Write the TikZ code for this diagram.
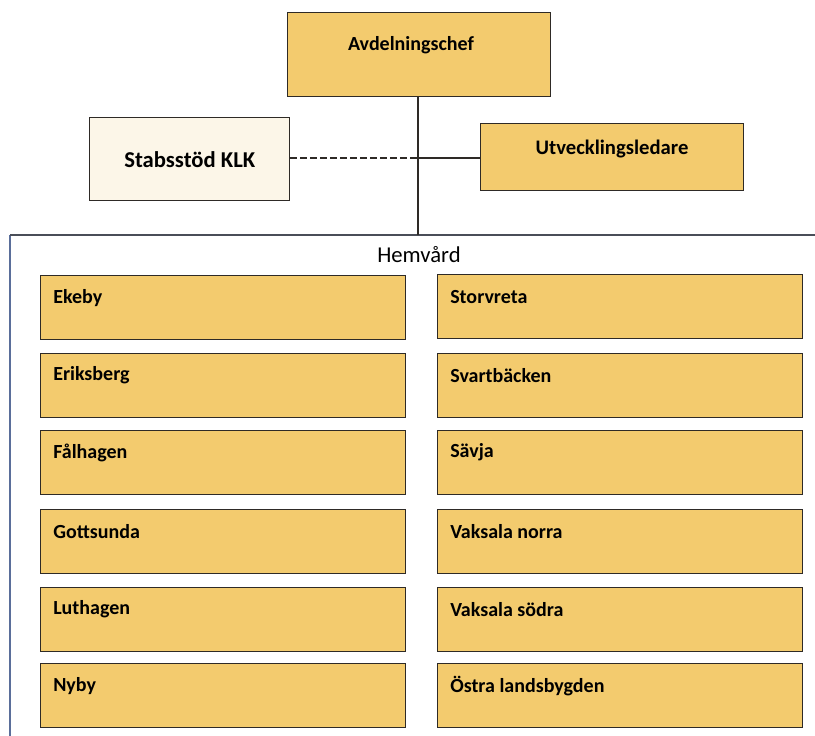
\documentclass[tikz,border=0pt]{standalone}
\usepackage{fontspec}
\setmainfont{Carlito}
\definecolor{gold}{HTML}{F3CB6E}
\definecolor{cream}{HTML}{FCF6E8}
\definecolor{edge}{HTML}{2E2A26}
\definecolor{frameblue}{HTML}{5A6E9A}
\definecolor{framegray}{HTML}{4A4E58}
\begin{document}
\begin{tikzpicture}[x=0.75pt,y=-0.75pt,
  box/.style={draw=edge,line width=1.1pt,fill=gold,inner sep=0pt},
  toptxt/.style={font=\bfseries\fontsize{15}{17}\selectfont},
  lbl/.style={font=\bfseries\fontsize{15}{17}\selectfont,anchor=west,inner sep=0pt}]
\useasboundingbox (0,0) rectangle (815,736);
% top boxes
\node[box,anchor=north west,minimum width=197.25pt,minimum height=63pt] (chef) at (287,12) {};
\node[toptxt] (cheft) at (411,45) {Avdelningschef};
\node[box,fill=cream,anchor=north west,minimum width=150pt,minimum height=62.25pt,font=\bfseries\fontsize{17}{19}\selectfont] (stab) at (89,117) {Stabsstöd KLK};
\node[box,anchor=north west,minimum width=197.25pt,minimum height=50.25pt] (utv) at (480,123) {};
\node[font=\bfseries\fontsize{15.5}{17}\selectfont] (utvt) at (612,149) {Utvecklingsledare};
% container
\coordinate (ctop) at (418,235);
\coordinate (junc) at (418,158);
\draw[frameblue,line width=0.8pt] (10,736) -- (10,235);
\draw[framegray,line width=0.9pt] (10,235) -- (815,235);
\draw[edge,line width=1.1pt] (chef.south -| ctop) -- (ctop);
\draw[edge,line width=1pt,dash pattern=on 5pt off 2.5pt] (stab.east |- junc) -- (junc);
\draw[edge,line width=1.1pt] (junc) -- (utv.west |- junc);
\node[font=\fontsize{17}{19}\selectfont] (hem) at (419,255) {Hemvård};
% units
\foreach \name/\txt/\x/\y in {
  ekeby/Ekeby/40/275, erik/Eriksberg/40/353, fal/Fålhagen/40/430,
  gott/Gottsunda/40/509, lut/Luthagen/40/587, nyby/Nyby/40/663,
  stor/Storvreta/437/274, svart/Svartbäcken/437/353, savja/Sävja/437/430,
  vakn/Vaksala norra/437/509, vaks/Vaksala södra/437/587, ostra/Östra landsbygden/437/663}{
  \node[box,anchor=north west,minimum width=273.75pt,minimum height=48pt] (\name) at (\x,\y) {};
  \node[lbl] (\name t) at ([xshift=9.75pt,yshift=-17pt]\name.north west) {\txt};
}
\end{tikzpicture}
\end{document}
